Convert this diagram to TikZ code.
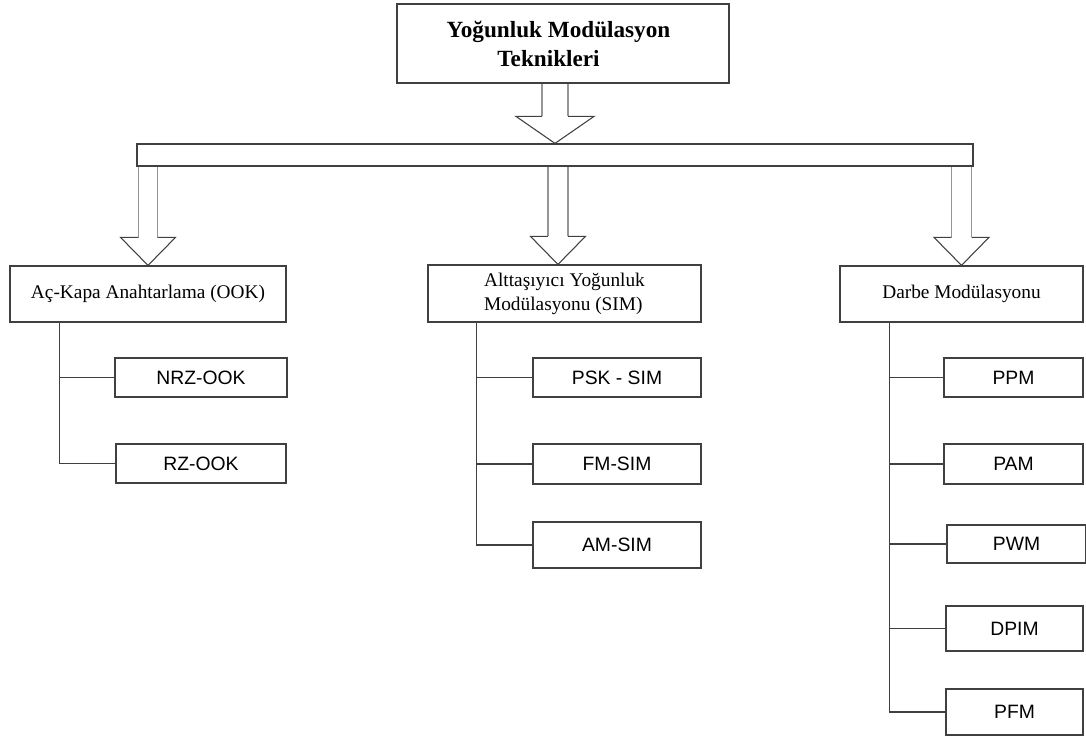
\documentclass[tikz,border=0pt]{standalone}
\usepackage{fontspec}
\setmainfont{Liberation Serif}
\setsansfont{Liberation Sans}
\usepackage{tikz}
\usetikzlibrary{calc}

\tikzset{
  linegray/.style={color={rgb, 255:red, 64; green, 64; blue, 64 }},
  mainbox/.style={draw, linegray, line width=0.9pt, text=black, inner sep=0.75pt,
    font=\fontsize{14.5}{18}\selectfont},
  leafbox/.style={draw, linegray, line width=0.9pt, text=black, inner sep=0.75pt,
    minimum height=29.25pt, font=\sffamily\fontsize{14.5}{17}\selectfont},
  branch/.style={linegray, line width=1pt},
  shaftline/.style={color={rgb, 255:red, 150; green, 150; blue, 150 }, line width=0.8pt},
  headline/.style={linegray, line width=0.8pt, line join=miter}
}

% hollow block arrow: #1 shaft top, #2 tip, #3 shaft half width, #4 head half width, #5 head length
\newcommand{\hollowarrow}[5]{%
  \draw[shaftline] let \p1=(#2), \p2=(#1) in (\x1-#3,\y2) -- (\x1-#3,\y1+#5) (\x1+#3,\y2) -- (\x1+#3,\y1+#5);
  \draw[headline] let \p1=(#2) in (\x1-#3,\y1+#5) -- (\x1-#4,\y1+#5) -- (\x1,\y1) -- (\x1+#4,\y1+#5) -- (\x1+#3,\y1+#5);
}

\begin{document}
\begin{tikzpicture}[x=0.75pt,y=-0.75pt]
\useasboundingbox (0,0) rectangle (1086,738);

% Title
\node (title) [mainbox, minimum width=249pt, minimum height=59.25pt, align=center,
  font=\fontsize{17.4}{21.75}\selectfont\bfseries] at (563,43.5) {Yoğunluk Modülasyon\hspace*{6.75pt}\\Teknikleri\hspace*{21.75pt}};
% Distribution bar
\node (bar) [mainbox, minimum width=627pt, minimum height=16.5pt] at (555,155) {};

% Groups
\node (ook) [mainbox, minimum width=207pt, minimum height=42pt] at (148,294) {Aç-Kapa Anahtarlama (OOK)};
\node (sim) [mainbox, minimum width=204.75pt, minimum height=42.75pt, align=left] at (564.5,293.5) {Alttaşıyıcı Yoğunluk\\Modülasyonu (SIM)};
\node (darbe) [mainbox, minimum width=182.25pt, minimum height=42pt] at (961.5,294) {Darbe Modülasyonu};

% OOK leaves
\node (nrz) [leafbox, minimum width=129pt] at (201,377.5) {NRZ-OOK};
\node (rz) [leafbox, minimum width=127.5pt] at (201,463.5) {RZ-OOK};
% SIM leaves
\node (psk) [leafbox, minimum width=126pt] at (617,377.5) {PSK - SIM};
\node (fm) [leafbox, minimum width=126pt, minimum height=30pt] at (617,464) {FM-SIM};
\node (am) [leafbox, minimum width=126pt, minimum height=34.5pt] at (617,545) {AM-SIM};
% pulse leaves
\node (ppm) [leafbox, minimum width=104.25pt] at (1013.5,377.5) {PPM};
\node (pam) [leafbox, minimum width=104.25pt, minimum height=30pt] at (1013.5,464) {PAM};
\node (pwm) [leafbox, minimum width=104.25pt, minimum height=28.5pt] at (1016.5,544) {PWM};
\node (dpim) [leafbox, minimum width=102.75pt, minimum height=33.75pt] at (1014.5,628.5) {DPIM};
\node (pfm) [leafbox, minimum width=102.75pt, minimum height=34.5pt] at (1014.5,712) {PFM};

% block arrows
\hollowarrow{title.south}{bar.north}{9.75pt}{29.25pt}{20.25pt}
\hollowarrow{bar.south}{ook.north}{7.1pt}{20.6pt}{21pt}
\hollowarrow{bar.south}{[xshift=-4.9pt]sim.north}{7.5pt}{20.6pt}{21pt}
\hollowarrow{bar.south}{darbe.north}{7.5pt}{20.6pt}{21pt}

% branches
\foreach \leaf in {nrz,rz}
  \draw[branch] ([xshift=37.5pt]ook.south west) |- (\leaf.west);
\foreach \leaf in {psk,fm,am}
  \draw[branch] ([xshift=36.75pt]sim.south west) |- (\leaf.west);
\foreach \leaf in {ppm,pam,pwm,dpim,pfm}
  \draw[branch] ([xshift=37.5pt]darbe.south west) |- (\leaf.west);

\end{tikzpicture}
\end{document}
